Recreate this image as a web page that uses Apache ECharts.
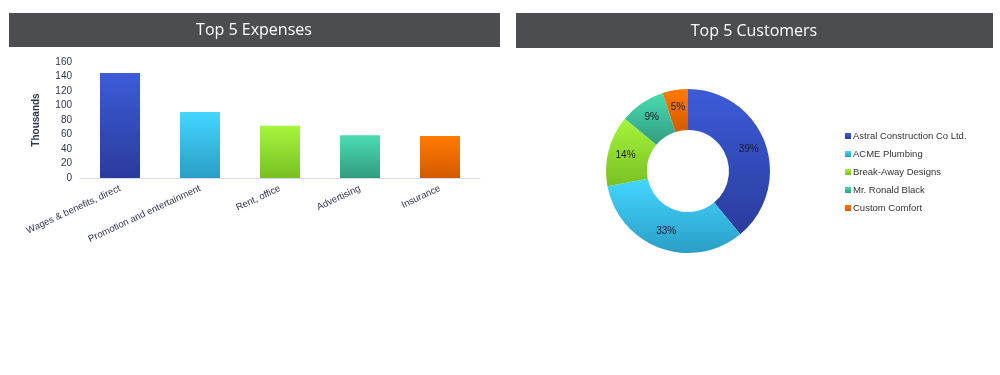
<!DOCTYPE html>
<html><head><meta charset="utf-8">
<script src="https://cdn.jsdelivr.net/npm/echarts@6/dist/echarts.min.js"></script>
<style>html,body{margin:0;padding:0;background:#fff}#c{width:1000px;height:375px}</style>
</head><body><div id="c"></div>
<script>
var expenseCategories = ['Wages & benefits, direct','Promotion and entertainment','Rent, office','Advertising','Insurance'];
var expenseValues = [145, 91, 72, 59, 58];
var yTicks = [0,20,40,60,80,100,120,140,160];
var customerNames = ['Astral Construction Co Ltd.','ACME Plumbing','Break-Away Designs','Mr. Ronald Black','Custom Comfort'];
var customerShares = [39, 33, 14, 9, 5];
var titles = ['Top 5 Expenses','Top 5 Customers'];

var palette = [['#3c5cd8','#2a3b9c'],['#43d6ff','#2a9ec6'],['#a6f53c','#78c023'],['#4adcb2','#329c80'],['#ff7b00','#d35a00']];
function grad(i){return new echarts.graphic.LinearGradient(0,0,0,1,[{offset:0,color:palette[i][0]},{offset:1,color:palette[i][1]}]);}

var chart = echarts.init(document.getElementById('c'), null, {renderer:'canvas'});
var txt = '#2e3450';
chart.setOption({
  animation:false,
  graphic:[
    {type:'rect',shape:{x:9,y:13,width:491,height:34},style:{fill:'#4c4d51'}},
    {type:'text',x:254,y:30,style:{text:titles[0],fill:'#fff',font:'16px "Open Sans"',align:'center',verticalAlign:'middle'}},
    {type:'rect',shape:{x:516,y:13,width:477,height:35},style:{fill:'#4c4d51'}},
    {type:'text',x:754,y:31,style:{text:titles[1],fill:'#fff',font:'16px "Open Sans"',align:'center',verticalAlign:'middle'}}
  ],
  grid:{left:80,top:62,width:400,height:116},
  xAxis:{type:'category',data:expenseCategories,
    axisLine:{lineStyle:{color:'#d8d8f0'}},axisTick:{show:false},
    axisLabel:{rotate:25,interval:0,color:txt,fontFamily:'Liberation Sans',fontSize:9.5,margin:10}},
  yAxis:{type:'value',min:0,max:160,interval:20,
    name:'Thousands',nameLocation:'middle',nameGap:39,nameRotate:90,
    nameTextStyle:{color:txt,fontWeight:'bold',fontFamily:'Liberation Sans',fontSize:10},
    axisLine:{show:false},axisTick:{show:false},splitLine:{show:false},
    axisLabel:{color:txt,fontFamily:'Liberation Sans',fontSize:10,margin:8}},
  legend:{orient:'vertical',left:840,top:125,icon:'rect',itemWidth:6,itemHeight:6,itemGap:6,
    textStyle:{color:'#333',fontFamily:'Liberation Sans',fontSize:9.5,lineHeight:12,padding:[0,0,0,-3]},
    data:customerNames},
  series:[
    {type:'bar',barWidth:40,data:expenseValues.map(function(v,i){return {value:v,itemStyle:{color:grad(i)}};})},
    {type:'pie',center:[688,171],radius:[41,82],startAngle:90,clockwise:true,
      label:{position:'inside',formatter:'{d}%',color:'#1a1a2a',fontFamily:'Liberation Sans',fontSize:10},
      labelLine:{show:false},
      data:customerNames.map(function(n,i){return {name:n,value:customerShares[i],itemStyle:{color:grad(i)}};})}
  ]
});
</script></body></html>
